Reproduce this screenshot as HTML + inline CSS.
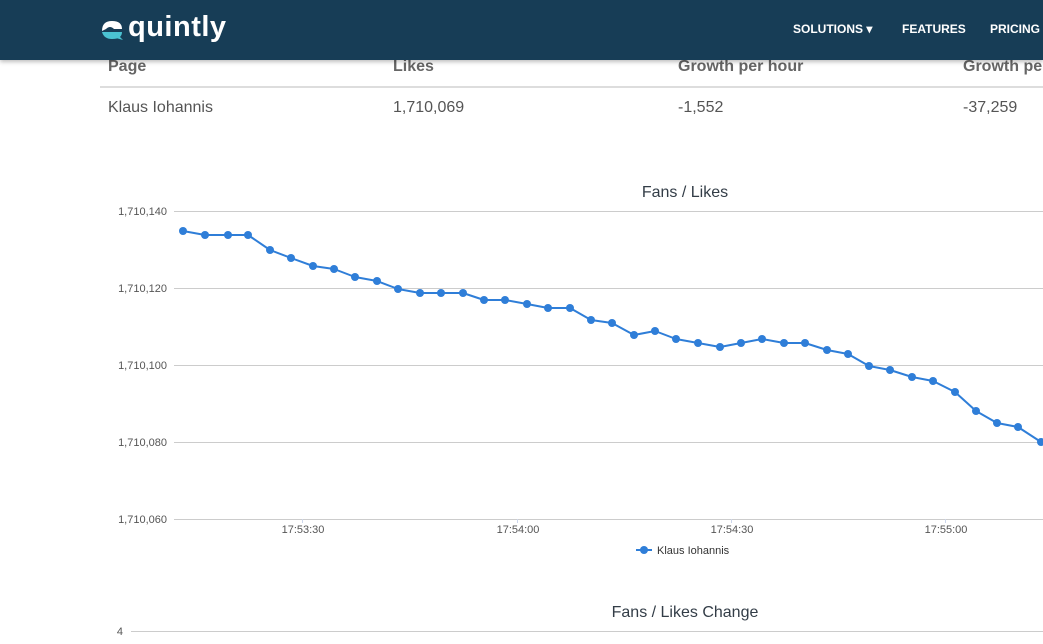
<!DOCTYPE html>
<html><head><meta charset="utf-8"><style>
body{margin:0;width:1043px;height:644px;overflow:hidden;background:#fff;font-family:"Liberation Sans",sans-serif;position:relative}
.hdr{position:absolute;left:0;top:0;width:1043px;height:60px;background:#173d56;box-shadow:0 2px 4px rgba(0,0,0,.25);z-index:2}
.logo{position:absolute;left:128px;top:11px;color:#fff;font-weight:bold;font-size:29px;letter-spacing:0.5px}
.nav{position:absolute;top:22px;color:#fff;font-weight:bold;font-size:12px}
.t{position:absolute;font-size:16px;color:#555}
</style></head><body>
<div class="hdr">
<svg style="position:absolute;left:100px;top:19px" width="24" height="22"><path d="M2 12 Q2 2 12 2 Q22 2 22 10 L14 10 Q10 6 6 10 Z" fill="#fff"/><path d="M2 13 L22 13 Q22 20 12 20 Q4 20 2 13Z" fill="#4bc3d2"/><path d="M18 16 L23 21 L16 19Z" fill="#4bc3d2"/></svg>
<div class="logo">quintly</div>
<div class="nav" style="left:793px">SOLUTIONS ▾</div>
<div class="nav" style="left:902px">FEATURES</div>
<div class="nav" style="left:990px">PRICING</div>
</div>
<div class="t" style="left:108px;top:58px;font-weight:bold;color:#666">Page</div>
<div class="t" style="left:393px;top:58px;font-weight:bold;color:#666">Likes</div>
<div class="t" style="left:678px;top:58px;font-weight:bold;color:#666">Growth per hour</div>
<div class="t" style="left:963px;top:58px;font-weight:bold;color:#666;white-space:nowrap">Growth per day</div>
<div style="position:absolute;left:100px;top:86px;width:943px;height:2px;background:#ddd"></div>
<div class="t" style="left:108px;top:99px">Klaus Iohannis</div>
<div class="t" style="left:393px;top:99px">1,710,069</div>
<div class="t" style="left:678px;top:99px">-1,552</div>
<div class="t" style="left:963px;top:99px">-37,259</div>
<svg style="position:absolute;left:0;top:0" width="1043" height="644" font-family="Liberation Sans, sans-serif">
<text x="685" y="197" text-anchor="middle" font-size="16" fill="#333d47">Fans / Likes</text>
<g stroke="#ccc" stroke-width="1">
<line x1="174" y1="211.5" x2="1043" y2="211.5"/><line x1="174" y1="288.5" x2="1043" y2="288.5"/><line x1="174" y1="365.5" x2="1043" y2="365.5"/><line x1="174" y1="442.5" x2="1043" y2="442.5"/><line x1="174" y1="519.5" x2="1043" y2="519.5"/>
<line x1="131" y1="631.5" x2="1043" y2="631.5"/>
<line x1="302.5" y1="519" x2="302.5" y2="523" stroke="#ccd6eb"/><line x1="517.5" y1="519" x2="517.5" y2="523" stroke="#ccd6eb"/><line x1="731.5" y1="519" x2="731.5" y2="523" stroke="#ccd6eb"/><line x1="945.5" y1="519" x2="945.5" y2="523" stroke="#ccd6eb"/>
</g>
<g font-size="11" fill="#555" text-anchor="end">
<text x="167" y="215">1,710,140</text><text x="167" y="292">1,710,120</text><text x="167" y="369">1,710,100</text><text x="167" y="446">1,710,080</text><text x="167" y="523">1,710,060</text>
<text x="123" y="635">4</text>
</g>
<g font-size="11" fill="#555" text-anchor="middle">
<text x="303" y="533">17:53:30</text><text x="518" y="533">17:54:00</text><text x="732" y="533">17:54:30</text><text x="946" y="533">17:55:00</text>
</g>
<polyline fill="none" stroke="#2f7ed8" stroke-width="2" stroke-linejoin="round" id="l" points="183,231 205,235 228,235 248,235 270,250 291,258 313,266 334,269 355,277 377,281 398,289 420,293 441,293 463,293 484,300 505,300 527,304 548,308 570,308 591,320 612,323 634,335 655,331 676,339 698,343 720,347 741,343 762,339 784,343 805,343 827,350 848,354 869,366 890,370 912,377 933,381 955,392 976,411 997,423 1018,427 1041,442"/>
<g fill="#2f7ed8" id="d"></g>
<line x1="636" y1="550" x2="652" y2="550" stroke="#2f7ed8" stroke-width="2"/><circle cx="644" cy="550" r="4" fill="#2f7ed8"/>
<text x="657" y="554" font-size="11" fill="#333">Klaus Iohannis</text>
<text x="685" y="617" text-anchor="middle" font-size="16" fill="#333d47">Fans / Likes Change</text>
</svg>
<script>
var p=document.getElementById('l').getAttribute('points').trim().split(/\s+/),g=document.getElementById('d'),s='';
p.forEach(function(q){var a=q.split(',');s+='<circle cx="'+a[0]+'" cy="'+a[1]+'" r="4"/>';});
g.innerHTML=s;
</script>
</body></html>
